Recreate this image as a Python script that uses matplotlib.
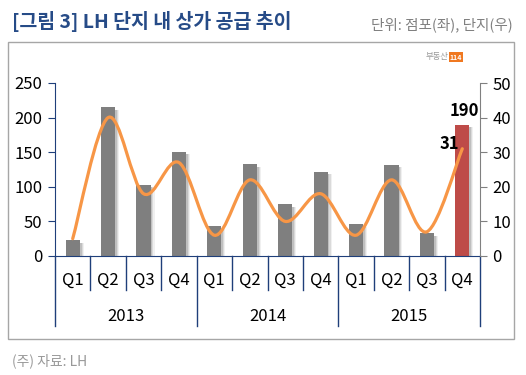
import matplotlib
matplotlib.use("Agg")
import matplotlib.pyplot as plt
from matplotlib.path import Path
from matplotlib.patches import PathPatch, Rectangle
import matplotlib.transforms as mtransforms
import numpy as np

plt.rcParams['font.family'] = ['Noto Sans CJK KR', 'DejaVu Sans']

quarters = ['Q1', 'Q2', 'Q3', 'Q4'] * 3
years = ['2013', '2014', '2015']
stores = [23, 215, 103, 151, 43, 133, 75, 122, 46, 132, 33, 190]   # 점포 (left)
complexes = [5, 40, 18, 27, 6, 22, 10, 18, 6, 22, 7, 31]           # 단지 (right)

W, H = 526, 375
fig = plt.figure(figsize=(W / 100, H / 100), dpi=100)

navy = '#1F3F7A'
gray_bar = '#7F7F7F'
red_bar = '#BE4B48'
orange = '#F79646'

# outer frame
fig.patches.append(Rectangle((8 / W, 1 - 339 / H), (514 - 8) / W, (339 - 42) / H,
                             transform=fig.transFigure, fill=False,
                             edgecolor='#A6A6A6', linewidth=1.0))

ax = fig.add_axes([55 / W, 1 - 256 / H, (480 - 55) / W, (256 - 83) / H])
x = np.arange(len(stores))
colors = [gray_bar] * (len(stores) - 1) + [red_bar]

# soft shadows
for off, a in [(0.11, 0.06), (0.08, 0.09), (0.05, 0.12)]:
    ax.bar(x + off, [s - 3 for s in stores], width=0.4, bottom=-1,
           color='#000000', alpha=a, zorder=1, linewidth=0)
ax.bar(x, stores, width=0.4, color=colors, zorder=2, linewidth=0)

ax.set_xlim(-0.5, len(stores) - 0.5)
ax.set_ylim(0, 250)
ax.set_yticks(range(0, 251, 50))
ax.tick_params(axis='y', direction='out', length=5, color=navy, labelsize=12,
               pad=4)
ax.set_xticks([])
for side in ['top', 'right']:
    ax.spines[side].set_visible(False)
ax.spines['left'].set_color(navy)
ax.spines['bottom'].set_color(navy)

ax2 = ax.twinx()
ax2.set_ylim(0, 50)
ax2.set_yticks(range(0, 51, 10))
ax2.tick_params(axis='y', direction='out', length=5, color='#808080',
                labelsize=12, pad=4)
for side in ['top', 'left', 'bottom']:
    ax2.spines[side].set_visible(False)
ax2.spines['right'].set_color('#808080')

# smoothed line (Catmull-Rom style bezier through the data points)
pts = np.column_stack([x, complexes]).astype(float)
n = len(pts)
verts = [pts[0]]
codes = [Path.MOVETO]
for i in range(n - 1):
    p0 = pts[i - 1] if i > 0 else pts[i]
    p1 = pts[i]
    p2 = pts[i + 1]
    p3 = pts[i + 2] if i + 2 < n else pts[i + 1]
    c1 = p1 + (p2 - p0) / 6.0
    c2 = p2 - (p3 - p1) / 6.0
    verts += [c1, c2, p2]
    codes += [Path.CURVE4] * 3
ax2.add_patch(PathPatch(Path(verts, codes), facecolor='none', edgecolor=orange,
                        linewidth=2.3, zorder=5, capstyle='round'))

# data labels
ax.text(x[-1] + 0.05, stores[-1] + 6, str(stores[-1]), ha='center', va='bottom',
        fontsize=12, fontweight='bold', color='black', zorder=6)
ax2.text(x[-1] - 0.1, complexes[-1] + 1.5, str(complexes[-1]), ha='right',
         va='center', fontsize=12, fontweight='bold', color='black', zorder=6)

# category axis
trans = mtransforms.blended_transform_factory(ax.transData, ax.transAxes)
for b in np.arange(-0.5, len(stores), 1.0):
    long = (b + 0.5) % 4 == 0
    ax.plot([b, b], [0, -0.405 if long else -0.197], transform=trans,
            color=navy, linewidth=1.0, clip_on=False)
for i, q in enumerate(quarters):
    ax.text(i, -0.139, q, transform=trans, ha='center', va='center',
            fontsize=12, color='black')
for j, yv in enumerate(years):
    ax.text(j * 4 + 1.5, -0.347, yv, transform=trans, ha='center',
            va='center', fontsize=12, color='black')

# titles and notes
fig.text(12 / W, 1 - 22 / H, '[그림 3] LH 단지 내 상가 공급 추이', ha='left',
         va='center', fontsize=14, fontweight='bold', color='#264B87')
fig.text(513 / W, 1 - 25 / H, '단위: 점포(좌), 단지(우)', ha='right',
         va='center', fontsize=10.5, color='#808080')
fig.text(12 / W, 1 - 361 / H, '(주) 자료: LH', ha='left', va='center',
         fontsize=10, color='#999999')

# small logo
fig.text(448 / W, 1 - 57 / H, '부동산', ha='right', va='center', fontsize=6,
         color='#999999')
fig.text(456 / W, 1 - 57 / H, '114', ha='center', va='center', fontsize=5,
         color='white', fontweight='bold',
         bbox=dict(boxstyle='square,pad=0.15', facecolor='#F07820',
                   edgecolor='none'))

fig.savefig('out.png', dpi=100)
